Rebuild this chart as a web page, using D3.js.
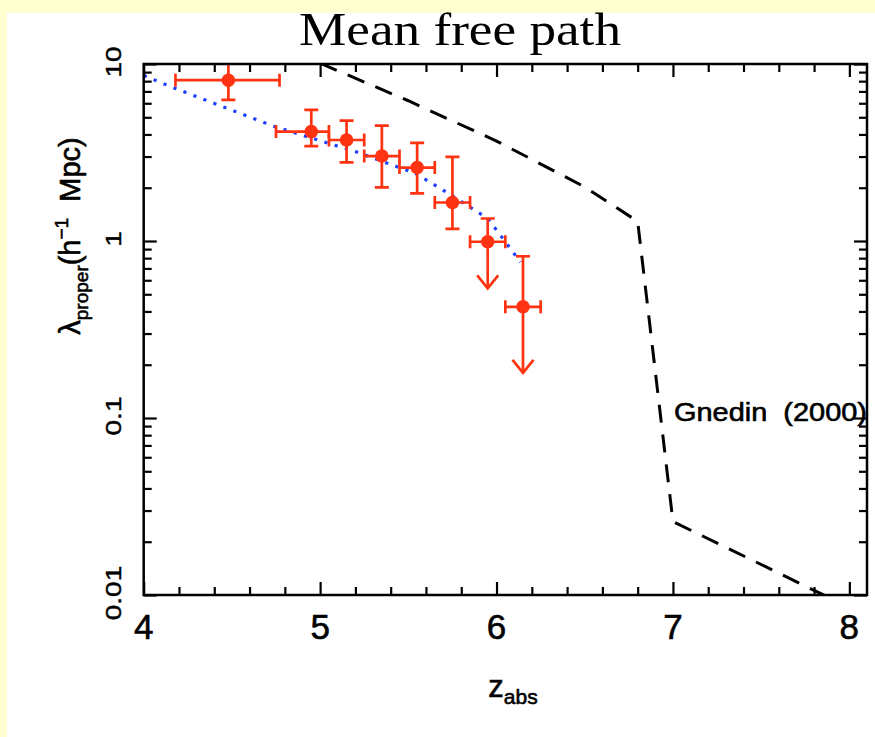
<!DOCTYPE html>
<html>
<head>
<meta charset="utf-8">
<script src="https://cdn.jsdelivr.net/npm/d3@7"></script>
<style>
  body { margin: 0; background: #ffffd2; }
  svg { display: block; }
  .lbl { stroke: black; stroke-width: 0.6px; }
</style>
</head>
<body>
<svg id="svg"></svg>
<script>
const width = 875;
const height = 737;

// measured mean free path (proper, h^-1 Mpc) with bin edges and error range
const zObs = [4.48, 4.95, 5.15, 5.35, 5.55, 5.75, 5.95, 6.15];
const zLo = [4.18, 4.75, 5.05, 5.25, 5.45, 5.65, 5.85, 6.05];
const zHi = [4.77, 5.05, 5.25, 5.45, 5.65, 5.85, 6.05, 6.25];
const lambdaObs = [8.1, 4.15, 3.72, 3.02, 2.6, 1.65, 0.99, 0.425];
const lambdaLo = [6.27, 3.44, 2.78, 2.01, 1.86, 1.17, 0.54, 0.18];
const lambdaHi = [11, 5.5, 4.79, 4.48, 3.58, 2.99, 1.34, 0.82];
const isLimit = [false, false, false, false, false, false, true, true];

// blue dotted fit
const zModel = [4.0, 4.18, 4.745, 5.2, 5.54, 5.75, 5.95, 6.06, 6.135];
const lambdaModel = [8.6, 7.27, 4.42, 3.2, 2.41, 1.8, 1.34, 0.96, 0.76];

// Gnedin (2000) simulation
const zGnedin = [5.0, 5.5, 6.0, 6.5, 6.8, 7.0, 8.0];
const lambdaGnedin = [10.1, 6.2, 3.67, 2.02, 1.29, 0.026, 0.0085];

// ticks
const xMajor = [4, 5, 6, 7, 8];
const yMajor = [0.01, 0.1, 1, 10];
const yLabels = ["0.01", "0.1", "1", "10"];

const red = "#ff3311";
const sans = "'Liberation Sans', Arial, sans-serif";

let svg = d3.select("#svg").attr("width", width).attr("height", height);

svg.append("rect").attr("width", width).attr("height", height).attr("fill", "#ffffd2");
svg.append("rect").attr("x", 7).attr("y", 13).attr("width", width - 7).attr("height", height - 13).attr("fill", "white");

const plotLeft = 143.7, plotRight = 867, plotTop = 64, plotBottom = 595;

let xScale = d3.scaleLinear().domain([4, 8.1]).range([plotLeft, plotRight]);
let yScale = d3.scaleLog().domain([0.01, 10]).range([plotBottom, plotTop]);

const xMinor = d3.range(4.2, 8.1, 0.2).filter(v => Math.abs(v - Math.round(v)) > 0.01);
const yMinor = [];
[0.01, 0.1, 1].forEach(d => { for (let k = 2; k <= 9; k++) yMinor.push(d * k); });

// Title
svg.append("text")
    .attr("x", 460)
    .attr("y", 45)
    .attr("text-anchor", "middle")
    .style("font-family", "'Liberation Serif', 'Times New Roman', serif")
    .style("font-size", "46px")
    .attr("textLength", 322)
    .attr("lengthAdjust", "spacingAndGlyphs")
    .text("Mean free path");

// clip for data
svg.append("clipPath").attr("id", "plot-clip")
    .append("rect").attr("x", plotLeft).attr("y", plotTop)
    .attr("width", plotRight - plotLeft).attr("height", plotBottom - plotTop);

let plot = svg.append("g").attr("clip-path", "url(#plot-clip)");

// Gnedin dashed line
const gnedinLine = d3.line()
    .x((d, i) => xScale(zGnedin[i]))
    .y(d => yScale(d));

plot.append("path")
    .datum(lambdaGnedin)
    .attr("d", gnedinLine)
    .attr("fill", "none")
    .attr("stroke", "black")
    .attr("stroke-width", 3)
    .attr("stroke-dasharray", "18,12");

// model dotted line
const modelLine = d3.line()
    .x((d, i) => xScale(zModel[i]))
    .y(d => yScale(d));

plot.append("path")
    .datum(lambdaModel)
    .attr("d", modelLine)
    .attr("fill", "none")
    .attr("stroke", "#1f3fff")
    .attr("stroke-width", 3.2)
    .attr("stroke-dasharray", "3.2,7.5");

// observed points
const obs = zObs.map((z, i) => ({
    z: z, lam: lambdaObs[i], lo: lambdaLo[i], hi: lambdaHi[i],
    zlo: zLo[i], zhi: zHi[i], limit: isLimit[i]
}));

let pts = plot.selectAll(".obs")
    .data(obs)
    .enter().append("g")
    .attr("class", "obs")
    .attr("stroke", red)
    .attr("stroke-width", 2.7)
    .attr("fill", "none");

// horizontal bar + caps
pts.append("line")
    .attr("x1", d => xScale(d.zlo)).attr("x2", d => xScale(d.zhi))
    .attr("y1", d => yScale(d.lam)).attr("y2", d => yScale(d.lam));
pts.append("line")
    .attr("x1", d => xScale(d.zlo)).attr("x2", d => xScale(d.zlo))
    .attr("y1", d => yScale(d.lam) - 6.5).attr("y2", d => yScale(d.lam) + 6.5);
pts.append("line")
    .attr("x1", d => xScale(d.zhi)).attr("x2", d => xScale(d.zhi))
    .attr("y1", d => yScale(d.lam) - 6.5).attr("y2", d => yScale(d.lam) + 6.5);

// vertical bar + caps
pts.append("line")
    .attr("x1", d => xScale(d.z)).attr("x2", d => xScale(d.z))
    .attr("y1", d => yScale(d.hi)).attr("y2", d => yScale(d.lo));
pts.append("line")
    .attr("x1", d => xScale(d.z) - 7).attr("x2", d => xScale(d.z) + 7)
    .attr("y1", d => yScale(d.hi)).attr("y2", d => yScale(d.hi));
pts.filter(d => !d.limit).append("line")
    .attr("x1", d => xScale(d.z) - 7).attr("x2", d => xScale(d.z) + 7)
    .attr("y1", d => yScale(d.lo)).attr("y2", d => yScale(d.lo));
pts.filter(d => d.limit).append("path")
    .attr("d", d => {
        let cx = xScale(d.z), cy = yScale(d.lo);
        return `M${cx - 10.5},${cy - 13}L${cx},${cy}L${cx + 10.5},${cy - 13}`;
    });

pts.append("circle")
    .attr("cx", d => xScale(d.z))
    .attr("cy", d => yScale(d.lam))
    .attr("r", 6.8)
    .attr("fill", red)
    .attr("stroke", "none");

// axes: ticks point inward on all four sides
function tickAxis(gen, transform, values, size) {
    let g = svg.append("g")
        .attr("transform", transform)
        .call(gen.tickValues(values).tickSize(size).tickFormat(""));
    g.select(".domain").remove();
    g.selectAll("line").attr("stroke", "black").attr("stroke-width", 2.2);
    return g;
}

tickAxis(d3.axisBottom(xScale), `translate(0,${plotBottom})`, xMinor, -8);
tickAxis(d3.axisBottom(xScale), `translate(0,${plotBottom})`, xMajor, -13);
tickAxis(d3.axisTop(xScale), `translate(0,${plotTop})`, xMinor, -8);
tickAxis(d3.axisTop(xScale), `translate(0,${plotTop})`, xMajor, -13);
tickAxis(d3.axisLeft(yScale), `translate(${plotLeft},0)`, yMinor, -8);
tickAxis(d3.axisLeft(yScale), `translate(${plotLeft},0)`, yMajor, -13);
tickAxis(d3.axisRight(yScale), `translate(${plotRight},0)`, yMinor, -8);
tickAxis(d3.axisRight(yScale), `translate(${plotRight},0)`, yMajor, -13);

// frame
svg.append("rect")
    .attr("x", plotLeft).attr("y", plotTop)
    .attr("width", plotRight - plotLeft).attr("height", plotBottom - plotTop)
    .attr("fill", "none")
    .attr("stroke", "black")
    .attr("stroke-width", 2.5);

// x tick labels
svg.append("g")
    .selectAll("text")
    .data(xMajor)
    .enter().append("text")
    .attr("class", "lbl")
    .attr("x", d => xScale(d))
    .attr("y", 639)
    .attr("text-anchor", "middle")
    .style("font-family", sans)
    .style("font-size", "35px")
    .text(d => d);

// y tick labels, rotated
svg.append("g")
    .selectAll("text")
    .data(yMajor)
    .enter().append("text")
    .attr("class", "lbl")
    .attr("transform", d => `translate(121,${yScale(d) - 2}) rotate(-90) scale(1,0.8)`)
    .attr("text-anchor", "middle")
    .style("font-family", sans)
    .style("font-size", "28px")
    .text((d, i) => yLabels[i]);

// y axis title
let yTitle = svg.append("text")
    .attr("class", "lbl")
    .attr("transform", "translate(80,236) rotate(-90)")
    .attr("text-anchor", "middle")
    .style("font-family", sans)
    .style("font-size", "29px");
yTitle.append("tspan").text("λ");
yTitle.append("tspan").attr("dy", 8).style("font-size", "19px").text("proper");
yTitle.append("tspan").attr("dy", -8).text("(h");
yTitle.append("tspan").attr("dy", -12).style("font-size", "19px").text("\u22121");
yTitle.append("tspan").attr("dy", 12).text("\u00a0 Mpc)");

// x axis title
let xTitle = svg.append("text")
    .attr("class", "lbl")
    .attr("x", 513)
    .attr("y", 697)
    .attr("text-anchor", "middle")
    .style("font-family", sans)
    .style("font-size", "31px");
xTitle.append("tspan").text("z");
xTitle.append("tspan").attr("dy", 7).style("font-size", "21px").text("abs");

// Gnedin label
svg.append("text")
    .attr("class", "lbl")
    .attr("x", 674)
    .attr("y", 421)
    .style("font-family", sans)
    .style("font-size", "26px")
    .style("white-space", "pre")
    .attr("textLength", 193)
    .attr("lengthAdjust", "spacingAndGlyphs")
    .text("Gnedin  (2000)");
</script>
</body>
</html>
